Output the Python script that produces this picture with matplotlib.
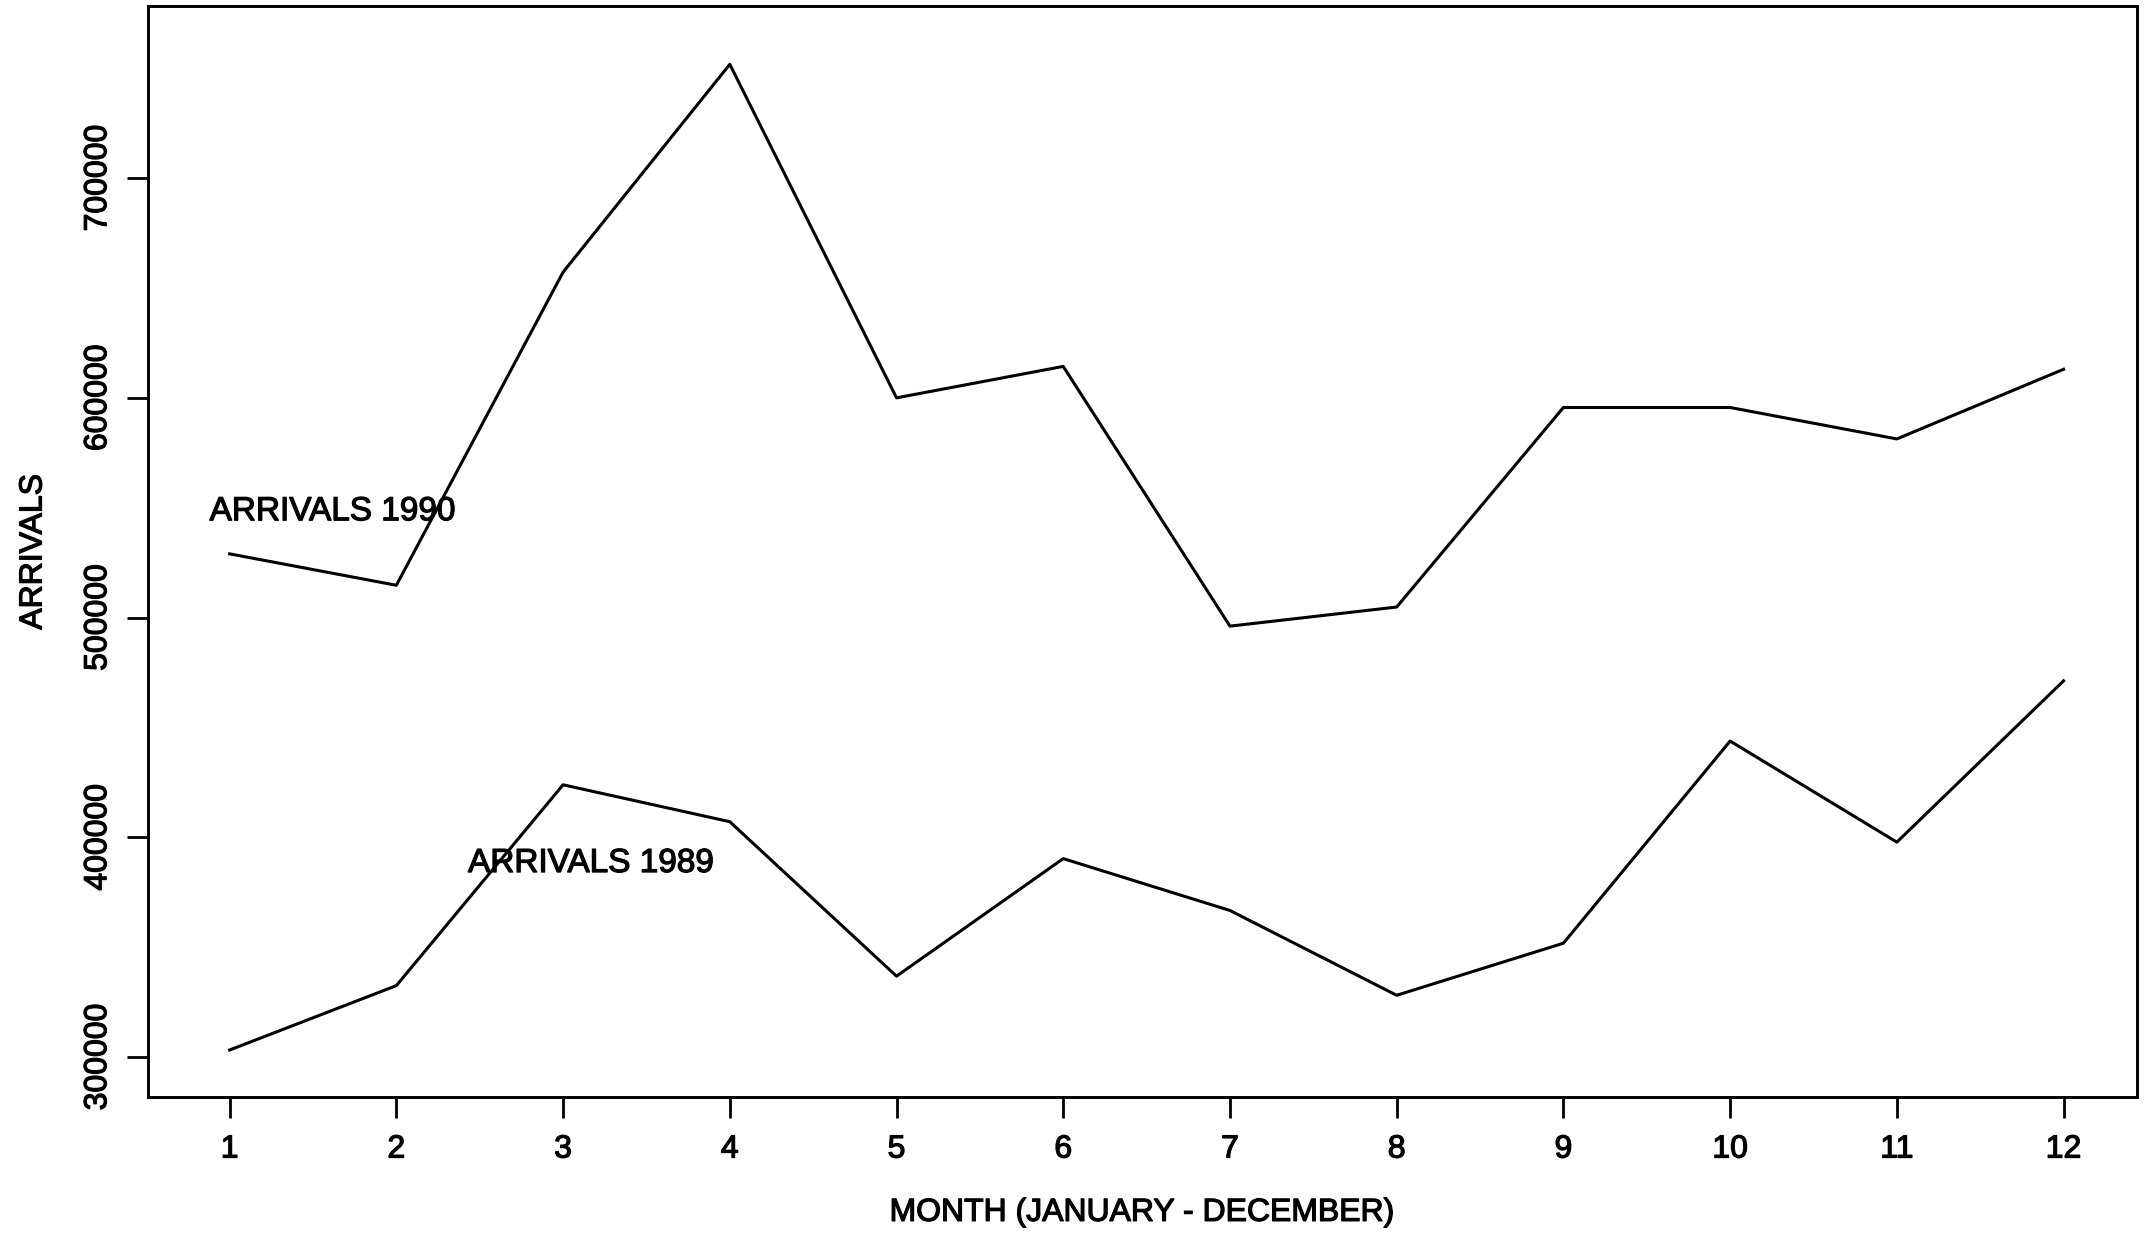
import numpy as np
import matplotlib.pyplot as plt
import matplotlib.patheffects as pe

plt.rcParams['font.family'] = ['Liberation Sans', 'DejaVu Sans']

# Monthly arrivals
months = np.arange(1, 13)
arrivals_1990 = [529000, 514700, 657200, 751800, 600000, 614300,
                 496100, 504800, 595600, 595600, 581300, 613000]
arrivals_1989 = [303200, 332500, 423900, 407100, 336800, 390300,
                 366700, 328100, 351800, 443800, 397800, 471200]
y_ticks = [300000, 400000, 500000, 600000, 700000]

# slightly heavier text, like the printed original
heavy = [pe.withStroke(linewidth=0.9, foreground="k")]

fig = plt.figure(figsize=(21.44, 12.34), dpi=100)
ax = fig.add_axes([0.069, 0.111, 0.9277, 0.884])

ax.plot(months, arrivals_1990, color="k", lw=2.2)
ax.plot(months, arrivals_1989, color="k", lw=2.2)

ax.text(0.88, 544300, "ARRIVALS 1990", fontsize=24, ha="left", va="baseline",
        path_effects=heavy)
ax.text(2.43, 384200, "ARRIVALS 1989", fontsize=24, ha="left", va="baseline",
        path_effects=heavy)

ax.set_xlim(0.51, 12.44)
ax.set_ylim(281800, 778250)
ax.set_xticks(months)
ax.set_xticklabels([str(m) for m in months])
ax.set_yticks(y_ticks)
ax.set_yticklabels([str(v) for v in y_ticks], rotation=90, va="center")

ax.tick_params(axis="both", direction="out", length=15, width=2,
               labelsize=23)
ax.tick_params(axis="x", pad=12)
ax.tick_params(axis="y", pad=10)
for lbl in ax.get_xticklabels() + ax.get_yticklabels():
    lbl.set_path_effects(heavy)
for s in ax.spines.values():
    s.set_linewidth(2.1)

ax.set_xlabel("MONTH (JANUARY - DECEMBER)", fontsize=23, labelpad=24,
              path_effects=heavy)
ax.set_ylabel("ARRIVALS", fontsize=23, labelpad=25, path_effects=heavy)

fig.savefig("out.png", dpi=100)
